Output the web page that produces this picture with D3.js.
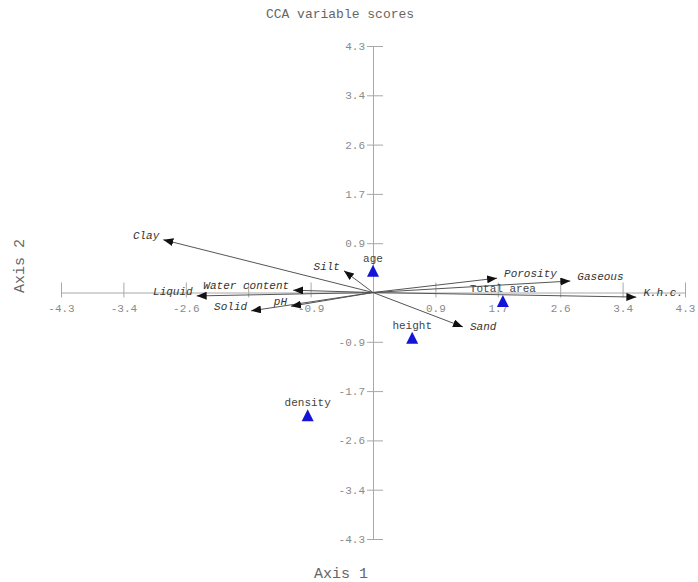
<!DOCTYPE html>
<html>
<head>
<meta charset="utf-8">
<script src="https://cdn.jsdelivr.net/npm/d3@7/dist/d3.min.js"></script>
<style>
  html, body { margin: 0; padding: 0; background: #fff; }
  svg { display: block; }
  text { font-family: "Liberation Mono", "DejaVu Sans Mono", monospace; }
</style>
</head>
<body>
<svg id="chart" width="698" height="582"></svg>
<script>
// Environmental variables (arrows): names and their scores on axes 1 and 2
const envNames = ["Clay", "Silt", "Liquid", "Water content", "Solid", "pH",
                  "Porosity", "Gaseous", "K.h.c.", "Sand"];
const envAxis1 = [-2.89, -0.40, -2.43, -1.10, -1.68, -1.13, 1.71, 2.72, 3.63, 1.24];
const envAxis2 = [0.92, 0.38, -0.06, 0.04, -0.32, -0.24, 0.25, 0.20, -0.08, -0.60];

// Supplementary variables (triangles)
const supNames = ["age", "Total area", "height", "density"];
const supAxis1 = [0.00, 1.79, 0.54, -0.90];
const supAxis2 = [0.38, -0.15, -0.79, -2.14];

// Axis ticks and their printed labels
const tickValues = [-4.3, -3.44, -2.58, -1.72, -0.86, 0.86, 1.72, 2.58, 3.44, 4.3];
const xTickLabels = ["-4.3", "-3.4", "-2.6", "", "-0.9", "0.9", "1.7", "2.6", "3.4", "4.3"];
const yTickLabels = ["-4.3", "-3.4", "-2.6", "-1.7", "-0.9", "0.9", "1.7", "2.6", "3.4", "4.3"];

const titleText = "CCA variable scores";
const xTitle = "Axis 1";
const yTitle = "Axis 2";

const svg = d3.select("#chart");
const x = d3.scaleLinear().domain([-4.3, 4.3]).range([61, 685]);
const y = d3.scaleLinear().domain([-4.3, 4.3]).range([539, 46]);
const x0 = x(0), y0 = y(0);

const axisColor = "#a8a8a8";
const tickTextColor = "#8a8a8a";

// Arrowhead marker
svg.append("defs").append("marker")
  .attr("id", "head")
  .attr("viewBox", "0 0 10 8")
  .attr("refX", 10).attr("refY", 4)
  .attr("markerWidth", 10).attr("markerHeight", 8)
  .attr("markerUnits", "userSpaceOnUse")
  .attr("orient", "auto")
  .append("path").attr("d", "M0,0 L10,4 L0,8 Z").attr("fill", "#111");

// Horizontal axis through the origin
const xAxis = d3.axisBottom(x).tickValues(tickValues)
  .tickSize(0).tickFormat((d, i) => xTickLabels[i]);
const gx = svg.append("g").attr("transform", `translate(0,${y0})`).call(xAxis);
gx.select(".domain").attr("stroke", axisColor);
gx.selectAll(".tick").append("line")
  .attr("y1", -10).attr("y2", 5).attr("stroke", axisColor);
gx.selectAll(".tick text")
  .attr("y", 16).attr("dy", "0.32em")
  .attr("fill", tickTextColor).attr("font-size", 11);

// Vertical axis through the origin
const yAxis = d3.axisLeft(y).tickValues(tickValues)
  .tickSize(0).tickFormat((d, i) => yTickLabels[i]);
const gy = svg.append("g").attr("transform", `translate(${x0},0)`).call(yAxis);
gy.select(".domain").attr("stroke", axisColor);
gy.selectAll(".tick").append("line")
  .attr("x1", -6).attr("x2", 10).attr("stroke", axisColor);
gy.selectAll(".tick text")
  .attr("x", -8)
  .attr("fill", tickTextColor).attr("font-size", 11);
svg.selectAll(".tick text").attr("font-family", "Liberation Mono, monospace");

// Environmental arrows
const env = envNames.map((n, i) => ({ name: n, a1: envAxis1[i], a2: envAxis2[i] }));
svg.append("g").selectAll("line").data(env).join("line")
  .attr("x1", x0).attr("y1", y0)
  .attr("x2", d => x(d.a1)).attr("y2", d => y(d.a2))
  .attr("stroke", "#555").attr("stroke-width", 1)
  .attr("marker-end", "url(#head)");

svg.append("g").selectAll("text").data(env).join("text")
  .attr("x", d => x(d.a1) + (d.a1 < 0 ? -4 : 7))
  .attr("y", d => y(d.a2) - (d.name === "Sand" ? 0 : 4))
  .attr("text-anchor", d => d.a1 < 0 ? "end" : "start")
  .attr("dominant-baseline", "middle")
  .attr("font-size", 11).attr("font-style", "italic")
  .attr("fill", "#333")
  .text(d => d.name);

// Supplementary variables as blue triangles
const sup = supNames.map((n, i) => ({ name: n, a1: supAxis1[i], a2: supAxis2[i] }));
svg.append("g").selectAll("path").data(sup).join("path")
  .attr("transform", d => `translate(${x(d.a1)},${y(d.a2)})`)
  .attr("d", "M0,-6 L6,6 L-6,6 Z")
  .attr("fill", "#1414d8");
svg.append("g").selectAll("text").data(sup).join("text")
  .attr("x", d => x(d.a1))
  .attr("y", d => y(d.a2) - 12)
  .attr("text-anchor", "middle")
  .attr("dominant-baseline", "middle")
  .attr("font-size", 11).attr("fill", "#444")
  .text(d => d.name);

// Titles
svg.append("text").attr("x", 340).attr("y", 18)
  .attr("text-anchor", "middle").attr("font-size", 13).attr("fill", "#666")
  .text(titleText);
svg.append("text").attr("x", 341).attr("y", 578)
  .attr("text-anchor", "middle").attr("font-size", 15).attr("fill", "#666")
  .text(xTitle);
svg.append("text")
  .attr("transform", "translate(24,266) rotate(-90)")
  .attr("text-anchor", "middle").attr("font-size", 15).attr("fill", "#666")
  .text(yTitle);
</script>
</body>
</html>
